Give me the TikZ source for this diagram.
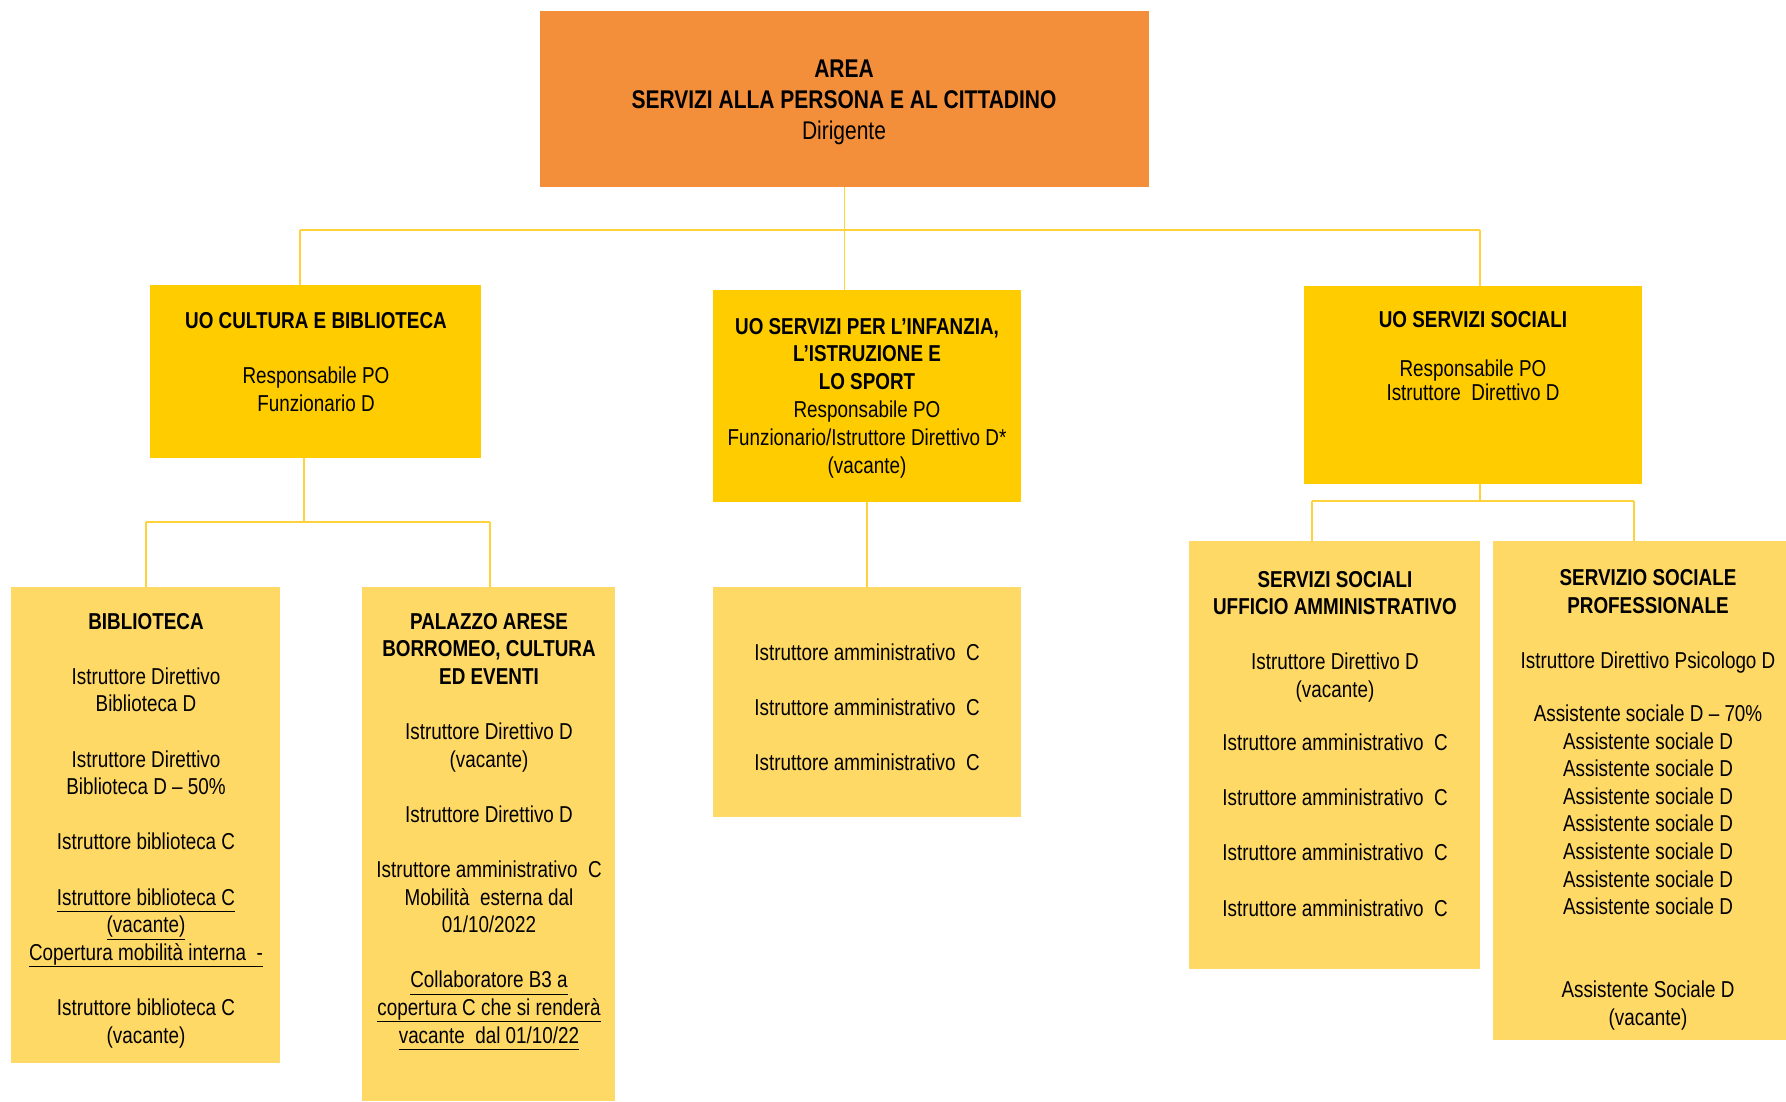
\documentclass[tikz,border=0pt]{standalone}
\usepackage{fontspec}
\setmainfont{Liberation Sans}[FakeStretch=0.82]
\definecolor{areaorange}{RGB}{243,143,59}
\definecolor{uogold}{RGB}{255,204,0}
\definecolor{sublight}{RGB}{255,217,102}
\definecolor{linegold}{RGB}{255,210,60}
\newcommand\ulin[1]{\underline{#1\vphantom{p}}}
\begin{document}
\begin{tikzpicture}[x=1pt,y=-1pt,
  boxshape/.style={draw=none, inner sep=0pt, outer sep=0pt, anchor=north west},
  areabox/.style={boxshape, fill=areaorange},
  uobox/.style={boxshape, fill=uogold},
  subbox/.style={boxshape, fill=sublight},
  txt/.style={align=center, inner sep=0pt, anchor=base, font=\fontsize{23}{27.6}\selectfont},
  toptxt/.style={align=center, inner sep=0pt, anchor=base, font=\fontsize{25.6}{31}\selectfont},
  conn/.style={draw=linegold, line width=1.6pt}]
\useasboundingbox (0,0) rectangle (1786,1101);
\fill[white] (0,0) rectangle (1786,1101);

% boxes
\node[areabox, minimum width=609pt, minimum height=176pt] (top) at (540,11) {};
\node[uobox, minimum width=331pt, minimum height=173pt] (cult) at (150,285) {};
\node[uobox, minimum width=308pt, minimum height=212pt] (infz) at (713,290) {};
\node[uobox, minimum width=338pt, minimum height=198pt] (soc) at (1304,286) {};
\node[subbox, minimum width=269pt, minimum height=476pt] (bib) at (11,587) {};
\node[subbox, minimum width=253pt, minimum height=514pt] (pal) at (362,587) {};
\node[subbox, minimum width=308pt, minimum height=230pt] (infc) at (713,587) {};
\node[subbox, minimum width=291pt, minimum height=428pt] (ssu) at (1189,541) {};
\node[subbox, minimum width=293pt, minimum height=499pt] (ssp) at (1493,541) {};

% connectors
\coordinate (busL) at (300,230);
\coordinate (busR) at (1480,230);
\draw[conn] (busL) -- (busR);
\draw[conn] (busL) -- (busL |- cult.north);
\draw[conn] (top.south) -- (top.south |- infz.north);
\draw[conn] (busR) -- (busR |- soc.north);

\coordinate (cbL) at (146,522);
\coordinate (cbR) at (490,522);
\coordinate (cbM) at (304,522);
\draw[conn] (cbM |- cult.south) -- (cbM);
\draw[conn] (cbL) -- (cbR);
\draw[conn] (cbL) -- (cbL |- bib.north);
\draw[conn] (cbR) -- (cbR |- pal.north);

\draw[conn] (infz.south) -- (infc.north);

\coordinate (sbL) at (1312,501);
\coordinate (sbR) at (1634,501);
\draw[conn] (busR |- soc.south) -- (busR |- sbL);
\draw[conn] (sbL) -- (sbR);
\draw[conn] (sbL) -- (sbL |- ssu.north);
\draw[conn] (sbR) -- (sbR |- ssp.north);

% texts (anchor = baseline of the last line)
\node[toptxt] (ttop) at (844,139) {\textbf{AREA}\\ \textbf{SERVIZI ALLA PERSONA E AL CITTADINO}\\ Dirigente};

\node[txt] (tcult) at (316,411) {\textbf{UO CULTURA E BIBLIOTECA}\\[27.6pt] Responsabile PO\\ Funzionario D};

\node[txt, font=\fontsize{23}{27.8}\selectfont] (tinfz) at (867,473) {\textbf{UO SERVIZI PER L’INFANZIA,}\\ \textbf{L’ISTRUZIONE E}\\ \textbf{LO SPORT}\\ Responsabile PO\\ Funzionario/Istruttore Direttivo D*\\ (vacante)};

\node[txt] (tsoc) at (1473,400) {\textbf{UO SERVIZI SOCIALI}\\[21.4pt] Responsabile PO\\[-3.6pt] Istruttore\ \ Direttivo D};

\node[txt] (tbib) at (146,1043) {\textbf{BIBLIOTECA}\\[27.6pt]
Istruttore Direttivo\\ Biblioteca D\\[27.6pt]
Istruttore Direttivo\\ Biblioteca D – 50\%\\[27.6pt]
Istruttore biblioteca C\\[27.6pt]
\ulin{Istruttore biblioteca C}\\ \ulin{(vacante)}\\ \ulin{Copertura mobilità interna\ \ -}\\[27.6pt]
Istruttore biblioteca C\\ (vacante)};

\node[txt] (tpal) at (489,1043) {\textbf{PALAZZO ARESE}\\ \textbf{BORROMEO, CULTURA}\\ \textbf{ED EVENTI}\\[27.6pt]
Istruttore Direttivo D\\ (vacante)\\[27.6pt]
Istruttore Direttivo D\\[27.6pt]
Istruttore amministrativo\ \ C\\ Mobilità\ \ esterna dal\\ 01/10/2022\\[27.6pt]
\ulin{Collaboratore B3 a}\\ \ulin{copertura C che si renderà}\\ \ulin{vacante\ \ dal 01/10/22}};

\node[txt] (tinfc) at (867,770) {Istruttore amministrativo\ \ C\\[27pt]
Istruttore amministrativo\ \ C\\[27pt]
Istruttore amministrativo\ \ C};

\node[txt] (tssu) at (1335,916) {\textbf{SERVIZI SOCIALI}\\ \textbf{UFFICIO AMMINISTRATIVO}\\[27.6pt]
Istruttore Direttivo D\\ (vacante)\\[25.4pt]
Istruttore amministrativo\ \ C\\[27.6pt]
Istruttore amministrativo\ \ C\\[27.6pt]
Istruttore amministrativo\ \ C\\[27.6pt]
Istruttore amministrativo\ \ C};

\node[txt] (tssp) at (1648,1025) {\textbf{SERVIZIO SOCIALE}\\ \textbf{PROFESSIONALE}\\[27.6pt]
Istruttore Direttivo Psicologo D\\[25.4pt]
Assistente sociale D – 70\%\\
Assistente sociale D\\
Assistente sociale D\\
Assistente sociale D\\
Assistente sociale D\\
Assistente sociale D\\
Assistente sociale D\\
Assistente sociale D\\[55.2pt]
Assistente Sociale D\\ (vacante)};
\end{tikzpicture}
\end{document}
